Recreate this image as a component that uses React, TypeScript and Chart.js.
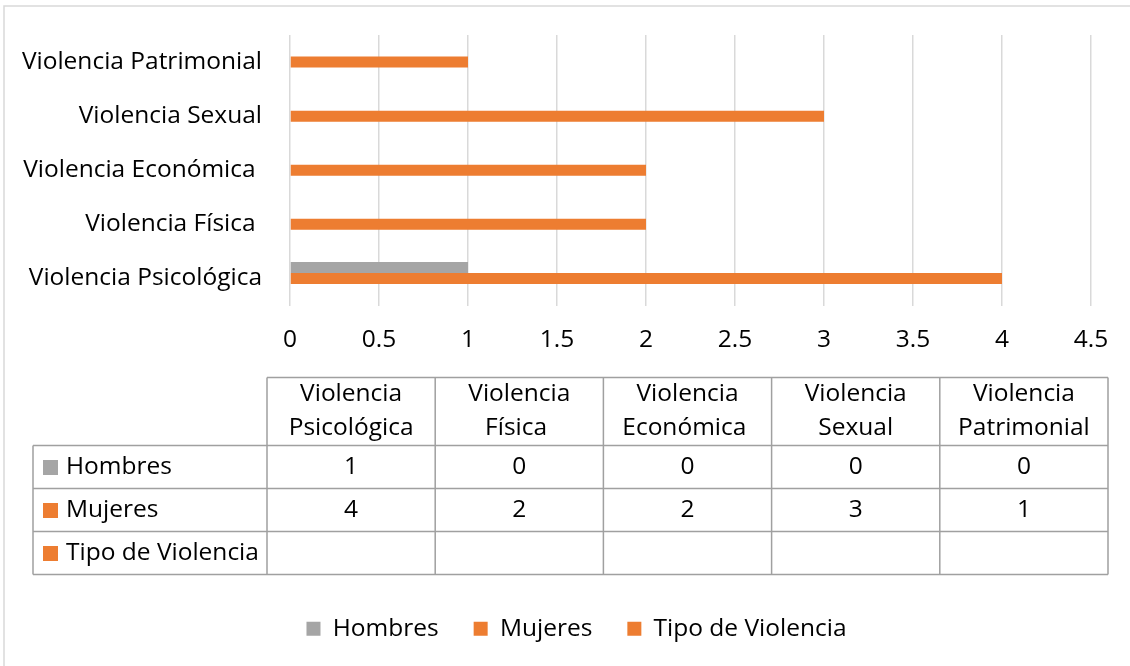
import React, { useEffect, useRef } from "react";
import { Chart, registerables } from "chart.js";

Chart.register(...registerables);

const categories = [
  "Violencia Psicológica",
  "Violencia Física ",
  "Violencia Económica ",
  "Violencia Sexual",
  "Violencia Patrimonial",
];
const seriesNames = ["Hombres", "Mujeres", "Tipo de Violencia"];
const hombres = [1, 0, 0, 0, 0];
const mujeres = [4, 2, 2, 3, 1];
const tipoDeViolencia: (number | null)[] = [null, null, null, null, null];
const seriesColors = ["#A5A5A5", "#ED7D31", "#ED7D31"];
const xMin = 0;
const xMax = 4.5;
const xStep = 0.5;

const FONT_FAMILY = '"Open Sans", "DejaVu Sans", sans-serif';
const FONT_SIZE = 24.5;
const TEXT = "#000000";
const TABLE_LINE = "#A0A0A0";

const framePlugin = {
  id: "frame",
  afterLayout(chart: any) {
    // centre the legend under the table rather than the full canvas
    const lg = chart.legend;
    if (lg) {
      lg.left += 31;
      lg.right += 31;
    }
  },
  beforeDraw(chart: any) {
    const ctx = chart.ctx;
    ctx.save();
    ctx.fillStyle = "#ffffff";
    ctx.fillRect(0, 0, chart.width, chart.height);
    ctx.strokeStyle = "#D9D9D9";
    ctx.lineWidth = 1.5;
    ctx.strokeRect(4, 6, chart.width + 20, chart.height + 20);
    ctx.restore();
  },
};

const tablePlugin = {
  id: "dataTable",
  afterDraw(chart: any) {
    const ctx = chart.ctx;
    const area = chart.chartArea;
    const labels: string[] = chart.data.labels;
    const datasets = chart.data.datasets;
    const colLeft = area.left - 23;
    const tableRight = area.right + 17;
    const rowHeadLeft = area.left - 257;
    const top = area.bottom + 72;
    const headH = 68;
    const rowH = 43;
    const nCols = labels.length;
    const colW = (tableRight - colLeft) / nCols;
    const nRows = datasets.length;
    const bodyTop = top + headH;
    const bottom = bodyTop + rowH * nRows;

    ctx.save();
    ctx.strokeStyle = TABLE_LINE;
    ctx.lineWidth = 1.5;
    ctx.beginPath();
    ctx.moveTo(colLeft, top);
    ctx.lineTo(tableRight, top);
    for (let r = 0; r <= nRows; r++) {
      const y = bodyTop + r * rowH;
      ctx.moveTo(rowHeadLeft, y);
      ctx.lineTo(tableRight, y);
    }
    for (let c = 0; c <= nCols; c++) {
      const x = colLeft + c * colW;
      ctx.moveTo(x, top);
      ctx.lineTo(x, bottom);
    }
    ctx.moveTo(rowHeadLeft, bodyTop);
    ctx.lineTo(rowHeadLeft, bottom);
    ctx.stroke();

    ctx.fillStyle = TEXT;
    ctx.font = `${FONT_SIZE}px ${FONT_FAMILY}`;
    ctx.textAlign = "center";
    ctx.textBaseline = "middle";
    labels.forEach((lab, c) => {
      const cx = colLeft + c * colW + colW / 2;
      const sp = lab.indexOf(" ");
      const l1 = lab.slice(0, sp);
      const l2 = lab.slice(sp + 1);
      ctx.fillText(l1, cx, top + 17);
      ctx.fillText(l2, cx, top + 51);
    });

    datasets.forEach((ds: any, r: number) => {
      const cy = bodyTop + r * rowH + rowH / 2;
      ctx.fillStyle = ds.backgroundColor;
      ctx.fillRect(rowHeadLeft + 10, cy - 7, 15, 15);
      ctx.fillStyle = TEXT;
      ctx.textAlign = "left";
      ctx.fillText(ds.label, rowHeadLeft + 33, cy);
      ctx.textAlign = "center";
      ds.data.forEach((v: number | null, c: number) => {
        if (v === null || v === undefined) return;
        const cx = colLeft + c * colW + colW / 2;
        ctx.fillText(String(v), cx, cy);
      });
    });
    ctx.restore();
  },
};

export default function App() {
  const ref = useRef<HTMLCanvasElement | null>(null);

  useEffect(() => {
    document.body.style.margin = "0";
    const canvas = ref.current;
    if (!canvas) return;
    const seriesData = [hombres, mujeres, tipoDeViolencia];
    const chart = new Chart(canvas, {
      type: "bar",
      data: {
        labels: categories,
        datasets: seriesNames.map((name, i) => ({
          label: name,
          data: seriesData[i],
          backgroundColor: seriesColors[i],
          borderWidth: 0,
          categoryPercentage: 0.611,
          barPercentage: 1,
        })),
      },
      options: {
        indexAxis: "y",
        responsive: false,
        animation: false,
        layout: { padding: { top: 35, left: 0, right: 39, bottom: 15 } },
        scales: {
          x: {
            min: xMin,
            max: xMax,
            ticks: {
              stepSize: xStep,
              color: TEXT,
              padding: 20,
              font: { family: FONT_FAMILY, size: FONT_SIZE },
              callback: (v: any) => String(Number(v)),
            },
            grid: { color: "#D9D9D9", lineWidth: 1.5, drawTicks: false },
            border: { display: false },
            afterFit: (s: any) => {
              s.height = 276;
            },
          },
          y: {
            reverse: true,
            ticks: {
              color: TEXT,
              padding: 28,
              font: { family: FONT_FAMILY, size: FONT_SIZE },
            },
            grid: { display: false, drawTicks: false },
            border: { display: false },
            afterFit: (s: any) => {
              s.width = 290;
              s.paddingTop = 0;
              s.paddingBottom = 0;
            },
          },
        },
        plugins: {
          legend: {
            position: "bottom",
            labels: {
              boxWidth: 14,
              boxHeight: 14,
              padding: 35,
              color: TEXT,
              font: { family: FONT_FAMILY, size: FONT_SIZE },
            },
          },
          tooltip: { enabled: false },
        },
      },
      plugins: [framePlugin, tablePlugin],
    });
    return () => chart.destroy();
  }, []);

  return (
    <div style={{ width: 1130, height: 666 }}>
      <canvas ref={ref} width={1130} height={666} />
    </div>
  );
}
